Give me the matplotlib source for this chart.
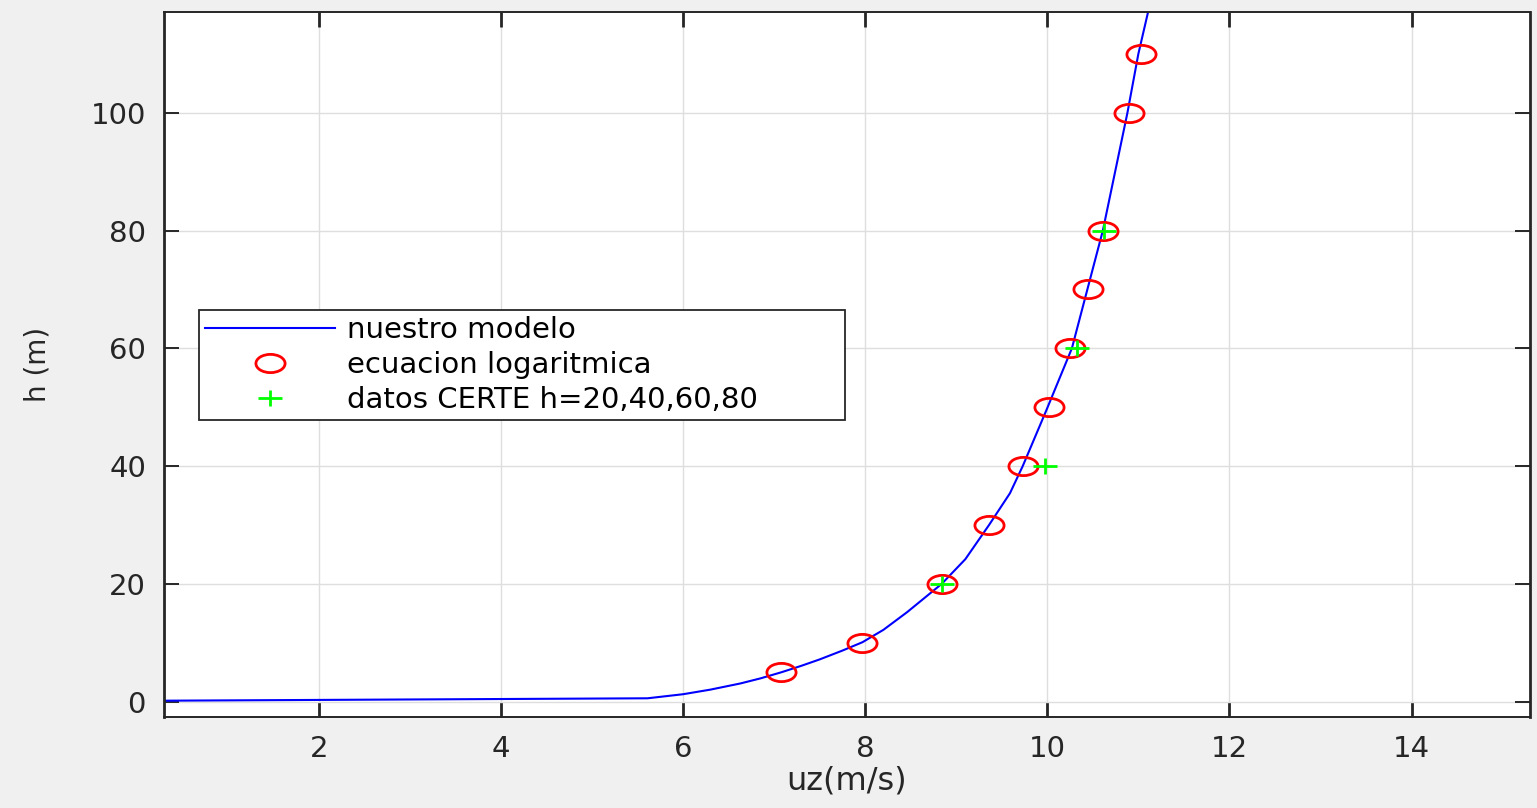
import matplotlib
matplotlib.use('Agg')
import matplotlib.pyplot as plt
import numpy as np
from matplotlib.path import Path

plt.rcParams['font.family'] = ['DejaVu Sans']

# nuestro modelo
u_modelo = [0.0, 5.61, 6.0, 6.3, 6.63, 6.85, 7.08, 7.3, 7.5, 7.75, 7.97, 8.2, 8.46,
            8.84, 9.1, 9.36, 9.59, 9.73, 9.99, 10.27, 10.44, 10.61, 10.88, 11.00, 11.12]
h_modelo = [0.15, 0.58, 1.27, 2.05, 3.1, 3.96, 5.0, 6.1, 7.18, 8.68, 10.1, 12.2, 15.2,
            20, 24.2, 30, 35.4, 40, 49.5, 60, 70, 80, 100, 110, 118]

# ecuacion logaritmica
u_log = [7.08, 7.97, 8.84, 9.36, 9.73, 10.02, 10.25, 10.45, 10.61, 10.90, 11.03]
h_log = [5, 10, 20, 30, 40, 50, 60, 70, 80, 100, 110]

# datos CERTE
u_certe = [8.84, 9.98, 10.33, 10.62]
h_certe = [20, 40, 60, 80]

xticks = [2, 4, 6, 8, 10, 12, 14]
yticks = [0, 20, 40, 60, 80, 100]

# marcadores "estirados" (la figura original esta ensanchada)
circ = Path.unit_circle()
elipse = Path(circ.vertices * np.array([1.6, 1.0]), circ.codes)
cruz = Path([(-1.5, 0), (1.5, 0), (0, -1.0), (0, 1.0)],
            [Path.MOVETO, Path.LINETO, Path.MOVETO, Path.LINETO])

fig = plt.figure(figsize=(15.37, 8.08), dpi=100, facecolor='#f0f0f0')
ax = fig.add_axes([0.1067, 0.1126, 0.8887, 0.8725])
ax.set_facecolor('white')

ax.plot(u_modelo, h_modelo, color='#0000ff', lw=1.5, label='nuestro modelo')
ax.plot(u_log, h_log, ls='none', marker=elipse, ms=21, mfc='none', mec='#ff0000',
        mew=2.0, label='ecuacion logaritmica')
ax.plot(u_certe, h_certe, ls='none', marker=cruz, ms=18, mfc='none', mec='#00ff00',
        mew=2.0, label='datos CERTE h=20,40,60,80')

ax.set_xlim(0.3, 15.3)
ax.set_ylim(-2.6, 117.1)
ax.set_xticks(xticks)
ax.set_yticks(yticks)
ax.grid(True, color='#dedede', lw=1.0)
ax.set_axisbelow(True)

for s in ['left', 'right']:
    ax.spines[s].set_linewidth(2.0)
for s in ['top', 'bottom']:
    ax.spines[s].set_linewidth(1.4)
for s in ax.spines.values():
    s.set_color('#262626')

ax.tick_params(axis='x', direction='in', length=11, width=2.0, top=True,
               labelsize=21, pad=13, colors='#262626')
ax.tick_params(axis='y', direction='in', length=11, width=1.4, right=True,
               labelsize=21, pad=13, colors='#262626')

ax.set_xlabel('uz(m/s)', fontsize=23, color='#262626', labelpad=2)
ax.set_ylabel('h (m)', fontsize=20, color='#262626', labelpad=28)

leg = ax.legend(loc='upper left', bbox_to_anchor=(0.0256, 0.421, 0.473, 0.156),
                mode='expand', borderaxespad=0, fontsize=21, fancybox=False,
                framealpha=1, edgecolor='#262626', handlelength=4.45,
                handletextpad=0.41, labelspacing=0.24, borderpad=0.2, numpoints=1)
leg.get_frame().set_linewidth(1.3)

plt.savefig('out.png', dpi=100, facecolor=fig.get_facecolor())
